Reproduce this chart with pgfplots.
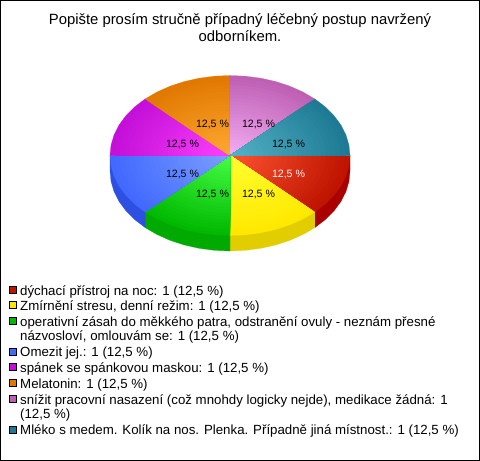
\documentclass[border=0pt]{standalone}
\usepackage{pgfplots}
\usepackage{pgfplotstable}
\usepackage{fontspec}
\setmainfont{Liberation Sans}
\pgfplotsset{compat=1.18}
\definecolor{redI}{RGB}{255,85,50}\definecolor{redO}{RGB}{190,20,0}
\definecolor{yelI}{RGB}{255,255,50}\definecolor{yelO}{RGB}{255,232,0}
\definecolor{greI}{RGB}{70,255,70}\definecolor{greO}{RGB}{0,185,0}
\definecolor{bluI}{RGB}{125,160,255}\definecolor{bluO}{RGB}{65,105,255}
\definecolor{magI}{RGB}{255,65,255}\definecolor{magO}{RGB}{195,15,215}
\definecolor{oraI}{RGB}{255,170,50}\definecolor{oraO}{RGB}{225,120,0}
\definecolor{orcI}{RGB}{245,175,245}\definecolor{orcO}{RGB}{190,95,180}
\definecolor{teaI}{RGB}{85,180,200}\definecolor{teaO}{RGB}{30,122,148}
\definecolor{redS}{RGB}{170,0,0}\definecolor{yelS}{RGB}{225,205,0}
\definecolor{greS}{RGB}{0,170,0}\definecolor{bluS}{RGB}{45,80,225}
\pgfplotstableread{
x y
0 0
120 0
118.97 10.44
115.91 20.71
110.86 30.61
103.92 40
95.21 48.70
84.85 56.57
}\arcA
\pgfplotstableread{
x y
0 0
84.85 56.57
73.06 63.47
60 69.28
45.92 73.91
31.06 77.27
15.66 79.31
0 80
}\arcB
\newcommand{\slice}[5]{%
  \pgfplotsinvokeforeach{100,96,92,88,84,80,76,72,68,64,60,56,52,48,44,40,36,32,28,24,20,16,12,8,4}{%
    \addplot[draw=#4!##1!#5,line width=0.2pt,fill=#4!##1!#5,mark=none]
      table[x expr={230+#2*##1/100*\thisrow{x}},y expr={155.5+#3*##1/100*\thisrow{y}}]{#1} -- cycle;
  }%
}
\newcommand{\key}[2]{\addplot[only marks,mark=square*,mark size=3.5pt,mark options={fill=#1,draw=black,line width=0.8pt}] coordinates {(13,#2)};}
\newcommand{\leg}[2]{\node[anchor=base west,inner sep=0pt,font=\fontsize{13.27}{13.27}\selectfont] at (axis cs:20,#1) {#2};}
\newcommand{\pct}[3][black]{\node[inner sep=0pt,text=#1,font=\fontsize{10.6}{10.6}\selectfont] at (axis cs:#2,#3) {12,5 \%};}
\begin{document}
\begin{tikzpicture}
\begin{axis}[
  scale only axis,width=479pt,height=460pt,
  xmin=0.5,xmax=479.5,ymin=0.5,ymax=460.5,y dir=reverse,
  xtick=\empty,ytick=\empty,axis line style={line width=1pt,black},
  clip=false]
% side walls
\addplot[fill=redS,draw=redS,line width=0.2pt] coordinates {(350,155.5)(350,171)(348.97,181.44)(345.91,191.71)(340.86,201.61)(333.92,211)(325.21,219.7)(314.85,227.57)(314.85,212.07)} -- cycle;
\addplot[fill=yelS,draw=yelS,line width=0.2pt] coordinates {(314.85,212.07)(314.85,227.57)(303.06,234.47)(290,240.28)(275.92,244.91)(261.06,248.27)(245.66,250.31)(230,251)(230,235.5)} -- cycle;
\addplot[fill=greS,draw=greS,line width=0.2pt] coordinates {(145.15,212.07)(145.15,227.57)(156.94,234.47)(170,240.28)(184.08,244.91)(198.94,248.27)(214.34,250.31)(230,251)(230,235.5)} -- cycle;
\addplot[fill=bluS,draw=bluS,line width=0.2pt] coordinates {(110,155.5)(110,171)(111.03,181.44)(114.09,191.71)(119.14,201.61)(126.08,211)(134.79,219.7)(145.15,227.57)(145.15,212.07)} -- cycle;
% wedges
\slice{\arcA}{1}{1}{redO}{redI}
\slice{\arcB}{1}{1}{yelO}{yelI}
\slice{\arcB}{-1}{1}{greO}{greI}
\slice{\arcA}{-1}{1}{bluO}{bluI}
\slice{\arcA}{-1}{-1}{magO}{magI}
\slice{\arcB}{-1}{-1}{oraO}{oraI}
\slice{\arcB}{1}{-1}{orcO}{orcI}
\slice{\arcA}{1}{-1}{teaO}{teaI}
% legend keys
\key{redO}{289.5}
\key{yelO}{305}
\key{greO}{321}
\key{bluO}{351.5}
\key{magO}{367}
\key{oraO}{383}
\key{orcO}{399}
\key{teaO}{429.5}
% labels
\pct[white]{288.5}{174.5}
\pct{258.5}{194.5}
\pct{212.5}{194.5}
\pct{182.5}{174.5}
\pct{182.5}{144.5}
\pct{212.5}{124.5}
\pct{258.5}{124.5}
\pct{288.5}{144.5}
% title
\node[inner sep=0pt,font=\fontsize{14.85}{14.85}\selectfont] at (axis cs:240,21) {Popište prosím stručně případný léčebný postup navržený};
\node[inner sep=0pt,font=\fontsize{14.85}{14.85}\selectfont] at (axis cs:240,36) {odborníkem.};
% legend
\leg{295}{dýchací přístroj na noc: 1 (12,5 \%)}
\leg{310}{Zmírnění stresu, denní režim: 1 (12,5 \%)}
\leg{326}{operativní zásah do měkkého patra, odstranění ovuly - neznám přesné}
\leg{340.5}{názvosloví, omlouvám se: 1 (12,5 \%)}
\leg{356.5}{Omezit jej.: 1 (12,5 \%)}
\leg{372.5}{spánek se spánkovou maskou: 1 (12,5 \%)}
\leg{388}{Melatonin: 1 (12,5 \%)}
\leg{404}{snížit pracovní nasazení (což mnohdy logicky nejde), medikace žádná: 1}
\leg{418.5}{(12,5 \%)}
\leg{434.5}{Mléko s medem. Kolík na nos. Plenka. Případně jiná místnost.: 1 (12,5 \%)}
\end{axis}
\end{tikzpicture}
\end{document}
